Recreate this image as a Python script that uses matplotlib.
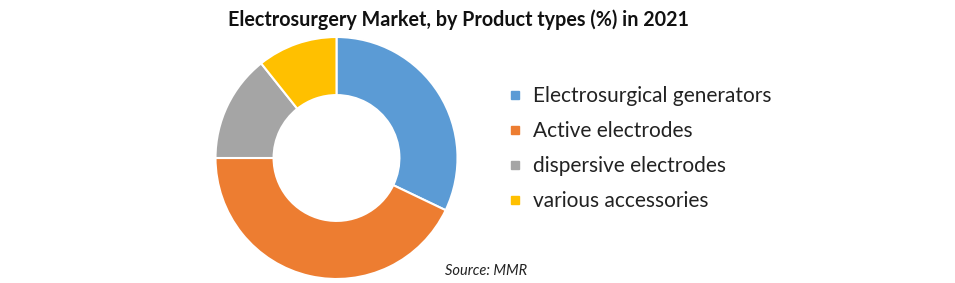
import matplotlib.pyplot as plt
from matplotlib.lines import Line2D

plt.rcParams['font.family'] = ['Lato', 'DejaVu Sans']

labels = ["Electrosurgical generators", "Active electrodes",
          "dispersive electrodes", "various accessories"]
shares = [32.1, 42.9, 14.3, 10.7]
colors = ["#5B9BD5", "#ED7D31", "#A5A5A5", "#FFC000"]

W, H = 955, 283
fig = plt.figure(figsize=(W / 100, H / 100), dpi=100)

# donut centre (336.5, 158) px, outer radius 121 px
cx, cy, r = 336.5, 158, 121
ax = fig.add_axes([(cx - r) / W, (H - cy - r) / H, 2 * r / W, 2 * r / H])
wedges, _ = ax.pie(shares, colors=colors, startangle=90, counterclock=False,
                   radius=1, wedgeprops=dict(width=0.48, edgecolor="white", linewidth=1.5))
ax.set_xlim(-1, 1)
ax.set_ylim(-1, 1)
ax.set_aspect("equal")
ax.axis("off")

fig.text(0.48, 1 - 20 / H, "Electrosurgery Market, by Product types (%) in 2021",
         ha="center", va="center", fontsize=14.2, fontweight="bold", color="#111111")

handles = [Line2D([], [], marker="s", linestyle="none", markersize=5.8,
                  markerfacecolor=c, markeredgecolor=c) for c in colors]
fig.legend(handles, labels, loc="upper left", bbox_to_anchor=(507 / W, 1 - 86 / H),
           frameon=False, fontsize=15, labelspacing=0.72, handlelength=0.8,
           handletextpad=0.46, borderaxespad=0, borderpad=0, labelcolor="#222222")

fig.text(445 / W, 1 - 271 / H, "Source: MMR", ha="left", va="center",
         fontsize=10.5, style="italic", color="#222222")

fig.savefig("out.png", dpi=100)
